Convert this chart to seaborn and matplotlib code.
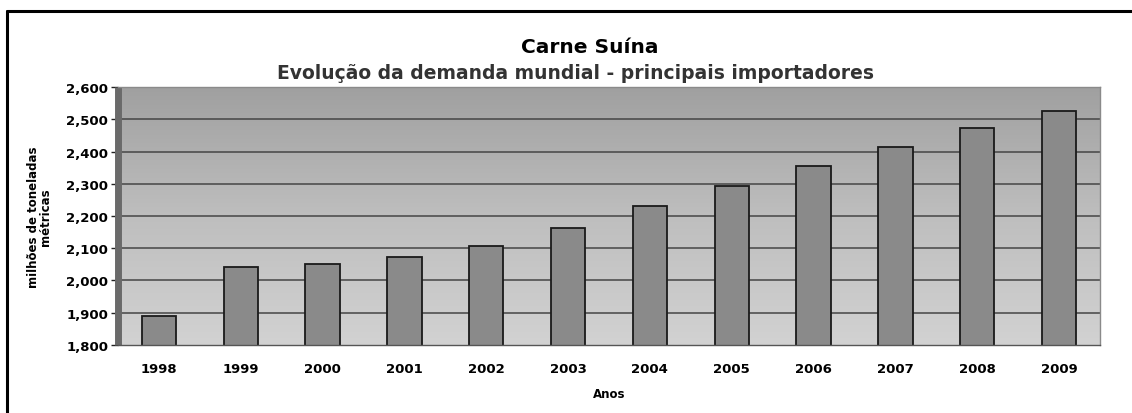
import numpy as np
import pandas as pd
import matplotlib
matplotlib.use('Agg')
import matplotlib.pyplot as plt
import seaborn as sns

# --- Data ---
anos = ['1998', '1999', '2000', '2001', '2002', '2003',
        '2004', '2005', '2006', '2007', '2008', '2009']
demanda = [1890, 2041, 2050, 2072, 2108, 2162,
           2230, 2294, 2356, 2413, 2472, 2526]
yticks = [1800, 1900, 2000, 2100, 2200, 2300, 2400, 2500, 2600]

df = pd.DataFrame({'Ano': anos, 'Demanda': demanda})

sns.set_theme(style='white')
plt.rcParams['font.family'] = ['DejaVu Sans']
plt.rcParams['text.color'] = 'black'
plt.rcParams['axes.labelcolor'] = 'black'
plt.rcParams['xtick.color'] = 'black'
plt.rcParams['ytick.color'] = 'black'

fig = plt.figure(figsize=(11.32, 4.14), dpi=100)
ax = fig.add_axes([0.1042, 0.1643, 0.8675, 0.6231])

# gray gradient background (darker at top)
grad = np.linspace(0, 1, 256).reshape(-1, 1)
cmap = matplotlib.colors.LinearSegmentedColormap.from_list(
    'bg', ['#d2d2d2', '#bebebe', '#a0a0a0'])
ax.imshow(grad, aspect='auto', cmap=cmap, origin='lower',
          extent=[-0.5, len(anos) - 0.5, 1800, 2600], zorder=0)

for v in yticks[1:-1]:
    ax.axhline(v, color='#454545', lw=1.1, zorder=1)

sns.barplot(data=df, x='Ano', y='Demanda', color='#8a8a8a', width=0.42,
            edgecolor='#1a1a1a', linewidth=1.3, saturation=1, ax=ax, zorder=2)

ax.set_xlim(-0.5, len(anos) - 0.5)
ax.set_ylim(1800, 2600)
ax.set_yticks(yticks)
ax.set_yticklabels([f'{v:,}' for v in yticks], fontsize=9.5, fontweight='bold')
ax.tick_params(axis='x', labelsize=9.5, length=0, pad=12)
for lbl in ax.get_xticklabels():
    lbl.set_fontweight('bold')
ax.tick_params(axis='y', length=5, width=1, left=True, color='#222222', pad=2)

for s in ['top', 'right']:
    ax.spines[s].set_color('#8a8a8a')
    ax.spines[s].set_linewidth(1)
ax.spines['bottom'].set_color('#555555')
ax.spines['bottom'].set_linewidth(1)
ax.spines['left'].set_color('#6a6a6a')
ax.spines['left'].set_linewidth(5)
ax.spines['left'].set_capstyle('butt')

ax.set_xlabel('Anos', fontsize=8.5, fontweight='bold', labelpad=9)
ax.set_ylabel('milhões de toneladas\nmétricas', fontsize=8.5, fontweight='bold',
              linespacing=0.9, labelpad=10)

fig.text(0.521, 0.885, 'Carne Suína', ha='center', va='center',
         fontsize=14.5, fontweight='bold', color='black')
fig.text(0.508, 0.823, 'Evolução da demanda mundial - principais importadores',
         ha='center', va='center', fontsize=13.5, fontweight='bold', color='#333333')

# outer frame (left and top edges)
fig.add_artist(plt.Line2D([0.0062, 0.0062], [0, 0.97], color='black', lw=2.2,
                          transform=fig.transFigure))
fig.add_artist(plt.Line2D([0.0062, 1.0], [0.97, 0.97], color='black', lw=2.2,
                          transform=fig.transFigure))

plt.savefig('out.png', dpi=100, facecolor='white')
plt.close()
